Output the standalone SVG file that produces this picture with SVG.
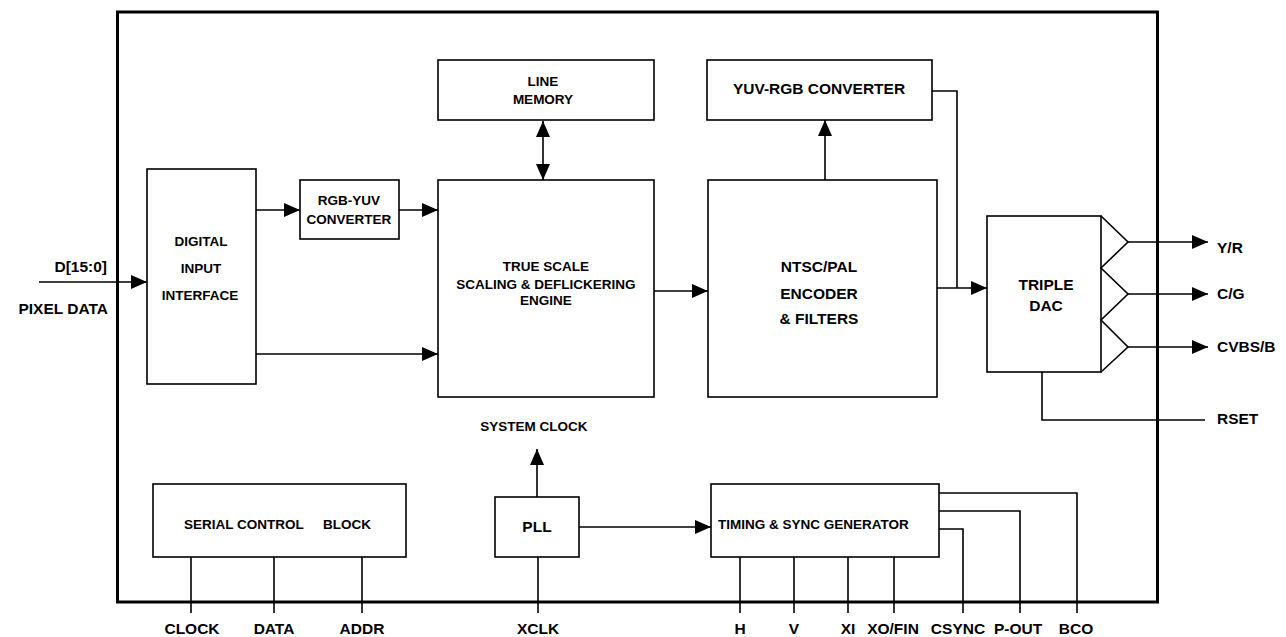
<svg xmlns="http://www.w3.org/2000/svg" width="1286" height="637" viewBox="0 0 1286 637">
<style>
.box{fill:#fff;stroke:#000;stroke-width:1.6}
.ln{fill:none;stroke:#000;stroke-width:1.6}
.ar{fill:none;stroke:#000;stroke-width:1.6;marker-end:url(#ah)}
text{font-family:"Liberation Sans",Arial,sans-serif;font-weight:bold;fill:#000}
.s{font-size:13.5px}
.m{font-size:15.5px}
.c{text-anchor:middle}
</style>
<defs>
<marker id="ah" markerUnits="userSpaceOnUse" markerWidth="17" markerHeight="15" refX="16" refY="7" orient="auto-start-reverse">
<path d="M0,0 L16,7 L0,14 z" fill="#000"/>
</marker>
</defs>
<rect x="117.5" y="12" width="1040" height="590" fill="none" stroke="#000" stroke-width="3"/>

<g id="digital-input">
<rect class="box" x="147" y="169" width="109" height="215"/>
<text class="s c" x="201" y="246">DIGITAL</text>
<text class="s c" x="201" y="273">INPUT</text>
<text class="s c" x="200" y="300">INTERFACE</text>
</g>
<g id="rgb-yuv">
<rect class="box" x="300" y="180" width="99" height="59"/>
<text class="s c" x="349" y="205">RGB-YUV</text>
<text class="s c" x="349" y="224">CONVERTER</text>
</g>
<g id="line-memory">
<rect class="box" x="438" y="60" width="216" height="60"/>
<text class="s c" x="543" y="86">LINE</text>
<text class="s c" x="543" y="104">MEMORY</text>
</g>
<g id="scaling">
<rect class="box" x="438" y="180" width="216" height="217"/>
<text class="s c" x="546" y="271">TRUE SCALE</text>
<text class="s c" x="546" y="289">SCALING &amp; DEFLICKERING</text>
<text class="s c" x="546" y="305">ENGINE</text>
</g>
<g id="yuv-rgb">
<rect class="box" x="707" y="60" width="225" height="60"/>
<text class="m c" x="819" y="94">YUV-RGB CONVERTER</text>
</g>
<g id="encoder">
<rect class="box" x="708" y="180" width="229" height="217"/>
<text class="m c" x="819" y="272">NTSC/PAL</text>
<text class="m c" x="819" y="299">ENCODER</text>
<text class="m c" x="819" y="324">&amp; FILTERS</text>
</g>
<g id="triple-dac">
<rect class="box" x="987" y="216" width="114" height="156"/>
<path class="ln" d="M1101,216 L1128,242 L1101,268 L1128,294 L1101,320 L1128,347 L1101,372"/>
<text class="m c" x="1046" y="290">TRIPLE</text>
<text class="m c" x="1046" y="311">DAC</text>
</g>
<g id="serial-control">
<rect class="box" x="153" y="484" width="253" height="73"/>
<text class="s" x="184" y="529">SERIAL CONTROL</text>
<text class="s" x="323" y="529">BLOCK</text>
</g>
<g id="pll">
<rect class="box" x="495" y="497" width="84" height="60"/>
<text class="m c" x="537" y="532">PLL</text>
</g>
<g id="timing">
<rect class="box" x="711" y="484" width="228" height="73"/>
<text class="s" x="718" y="529">TIMING &amp; SYNC GENERATOR</text>
</g>

<g id="connectors">
<line class="ar" x1="39" y1="282" x2="147" y2="282"/>
<line class="ar" x1="256" y1="210" x2="300" y2="210"/>
<line class="ar" x1="399" y1="210" x2="438" y2="210"/>
<line class="ar" x1="256" y1="354" x2="438" y2="354"/>
<line class="ar" x1="543" y1="121" x2="543" y2="180" style="marker-start:url(#ah)"/>
<line class="ar" x1="654" y1="291" x2="708" y2="291"/>
<line class="ar" x1="825" y1="180" x2="825" y2="120"/>
<line class="ar" x1="937" y1="288" x2="987" y2="288"/>
<path class="ln" d="M932,91 H957 V288"/>
<line class="ar" x1="1128" y1="242" x2="1208" y2="242"/>
<line class="ar" x1="1128" y1="294" x2="1208" y2="294"/>
<line class="ar" x1="1128" y1="347" x2="1208" y2="347"/>
<path class="ln" d="M1042,372 V420 H1205"/>
<line class="ln" x1="191" y1="557" x2="191" y2="613"/>
<line class="ln" x1="274" y1="557" x2="274" y2="613"/>
<line class="ln" x1="362" y1="557" x2="362" y2="613"/>
<line class="ln" x1="538" y1="557" x2="538" y2="613"/>
<line class="ar" x1="537" y1="497" x2="537" y2="449"/>
<line class="ar" x1="579" y1="527" x2="711" y2="527"/>
<line class="ln" x1="740" y1="557" x2="740" y2="613"/>
<line class="ln" x1="794" y1="557" x2="794" y2="613"/>
<line class="ln" x1="848" y1="557" x2="848" y2="613"/>
<line class="ln" x1="894" y1="557" x2="894" y2="613"/>
<path class="ln" d="M939,529 H963 V613"/>
<path class="ln" d="M939,511 H1020 V613"/>
<path class="ln" d="M939,493 H1077 V613"/>
</g>

<text class="m" x="107" y="272" text-anchor="end">D[15:0]</text>
<text class="m" x="108" y="314" text-anchor="end">PIXEL DATA</text>
<text class="s c" x="534" y="431">SYSTEM CLOCK</text>
<text class="m" x="1217" y="253">Y/R</text>
<text class="m" x="1217" y="299">C/G</text>
<text class="m" x="1217" y="352">CVBS/B</text>
<text class="m" x="1217" y="424">RSET</text>
<text class="m c" x="192" y="634">CLOCK</text>
<text class="m c" x="274" y="634">DATA</text>
<text class="m c" x="362" y="634">ADDR</text>
<text class="m c" x="538" y="634">XCLK</text>
<text class="m c" x="740" y="634">H</text>
<text class="m c" x="794" y="634">V</text>
<text class="m c" x="848" y="634">XI</text>
<text class="m c" x="893" y="634">XO/FIN</text>
<text class="m c" x="958" y="634">CSYNC</text>
<text class="m c" x="1018" y="634">P-OUT</text>
<text class="m c" x="1076" y="634">BCO</text>
</svg>
